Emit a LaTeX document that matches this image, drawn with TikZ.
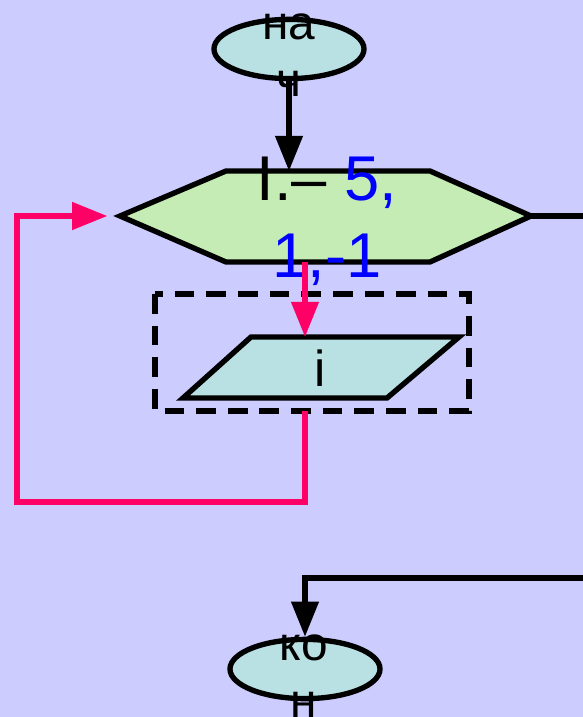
\documentclass[tikz,border=0pt]{standalone}
\usepackage{fontspec}
\setmainfont{Liberation Sans}
\usepackage{tikz}
\usetikzlibrary{arrows.meta,shapes.geometric}
\definecolor{bglilac}{HTML}{CCCCFF}
\definecolor{termcyan}{HTML}{B9E0E2}
\definecolor{loopgreen}{HTML}{C5ECB4}
\definecolor{looppink}{HTML}{FF0066}
\definecolor{valblue}{HTML}{0000FF}

\begin{document}
\begin{tikzpicture}[x=0.025cm,y=-0.025cm,line width=3.8pt,
    flow/.style={-{Triangle[length=25pt,width=19pt]}},
    term/.style={ellipse,draw,fill=termcyan,minimum width=3.75cm,minimum height=1.48cm,inner sep=0pt},
    termtext/.style={align=center,inner sep=0pt,font=\fontsize{34pt}{40.5pt}\selectfont}]
    \fill[bglilac] (0,0) rectangle (583,717);
    \useasboundingbox (0,0) rectangle (583,717);
    % start
    \node[term] (start) at (289,49) {};
    \node[termtext] (starttext) at (289,55) {на\\ч};
    % loop header
    \draw[fill=loopgreen] (120,216) coordinate (hexW) -- (226,171) -- (430,171)
      -- (531,216) coordinate (hexE) -- (430,262) -- (226,262) -- cycle;
    \coordinate (hexN) at (289,171);
    \coordinate (hexS) at (305,262);
    \node[align=center,inner sep=0pt,font=\fontsize{45pt}{55pt}\selectfont] (hextext) at (327,221)
      {I.– \textcolor{valblue}{5,}\\\textcolor{valblue}{1,-1}};
    % loop body
    \draw[dashed,dash pattern=on 14pt off 8.5pt] (155,294) rectangle (469,411);
    \coordinate (boxS) at (305,411);
    \draw[fill=termcyan] (251,337) -- (459,337) -- (387,398) -- (183,398) -- cycle;
    \coordinate (parN) at (305,337);
    \node[inner sep=0pt,font=\fontsize{36pt}{40pt}\selectfont] (outtext) at (320,368) {i};
    % end
    \node[term] (finish) at (305,669) {};
    \node[termtext] (finishtext) at (304,676) {ко\\н};
    % connectors
    \draw[flow] (start.south) -- (hexN);
    \draw[flow,looppink] (hexS) -- (parN);
    \draw[flow,looppink,shorten >=9pt] (boxS) |- (17,502) |- (hexW);
    \draw (hexE) -- (583,216);
    \draw[flow] (583,578) -| (finish.north);
\end{tikzpicture}
\end{document}
